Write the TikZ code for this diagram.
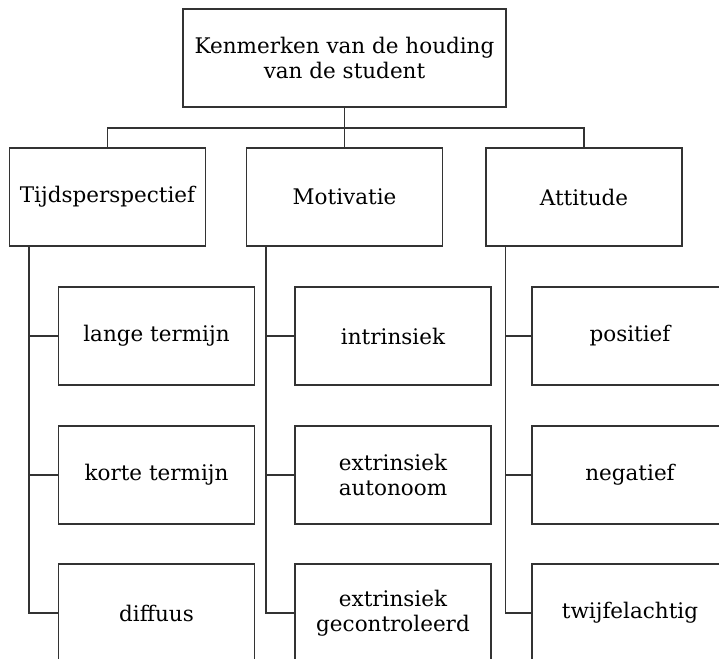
\documentclass[tikz,border=0pt]{standalone}
\usepackage{fontspec}
\setmainfont{DejaVu Serif}

\begin{document}
\begin{tikzpicture}
	[x=1pt,y=-1pt,
	 b/.style={draw=black!80,line width=1.1pt,minimum width=196pt,minimum height=98pt,
	           align=center,font=\fontsize{21.5}{25}\selectfont},
	 l/.style={draw=black!80,line width=1.1pt},
	 hv/.style={to path={|- (\tikztotarget)}}]

	\useasboundingbox (0,0) rectangle (719,658);
	\clip (0,0) rectangle (719,658);

	\node[b,minimum width=323pt] (kh) at (344.5,58) {Kenmerken van de houding\\van de student};

	\node[b] (tp) at (107.5,197) {Tijdsperspectief};
	\node[b] (mo) at (344.5,197) {Motivatie};
	\node[b] (at) at (584,197) {Attitude};

	\node[b] (lt) at (156.5,336) {lange termijn};
	\node[b] (kt) at (156.5,475) {korte termijn};
	\node[b] (df) at (156.5,613) {diffuus};

	\node[b] (in) at (393,336) {intrinsiek};
	\node[b] (ea) at (393,475) {extrinsiek\\autonoom};
	\node[b] (eg) at (393,613) {extrinsiek\\gecontroleerd};

	\node[b] (po) at (630,336) {positief};
	\node[b] (ne) at (630,475) {negatief};
	\node[b] (tw) at (630,613) {twijfelachtig};

	\coordinate (bus) at (344.5,128);
	\draw[l] (kh) -- (mo);
	\draw[l] (tp.north) |- (bus) -| (at.north);

	\coordinate (tpr) at ([xshift=20pt]tp.south west);
	\coordinate (mor) at ([xshift=20pt]mo.south west);
	\coordinate (atr) at ([xshift=20pt]at.south west);

	\path (tpr)
		edge [l,hv]	(lt.west)
		edge [l,hv]	(kt.west)
		edge [l,hv]	(df.west)
	;
	\path (mor)
		edge [l,hv]	(in.west)
		edge [l,hv]	(ea.west)
		edge [l,hv]	(eg.west)
	;
	\path (atr)
		edge [l,hv]	(po.west)
		edge [l,hv]	(ne.west)
		edge [l,hv]	(tw.west)
	;

\end{tikzpicture}
\end{document}
